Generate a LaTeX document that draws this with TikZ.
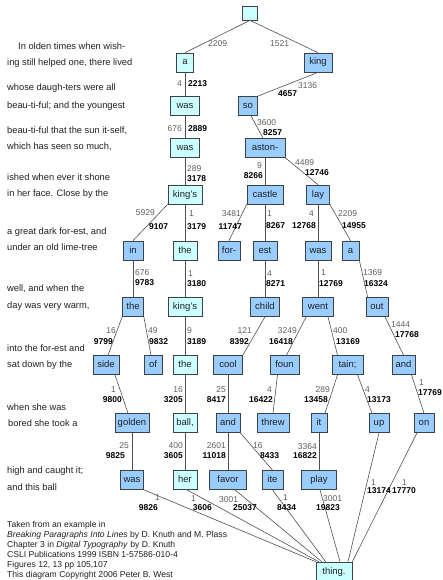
\documentclass[tikz,border=0pt]{standalone}
\usepackage{fontspec}
\setmainfont{Liberation Sans}
\definecolor{cyanfill}{HTML}{CCFFFF}
\definecolor{bluefill}{HTML}{99CCFF}
\definecolor{edgecol}{HTML}{505050}
\definecolor{numgray}{HTML}{606060}
\definecolor{txtcol}{HTML}{202020}
\begin{document}
\begin{tikzpicture}[x=1pt,y=-1pt,
  wbox/.style={draw=black!75, line width=0.7pt, minimum height=19pt, inner sep=0pt,
    text height=7pt, text depth=2pt, font=\fontsize{9.5}{10}\selectfont, text=txtcol},
  cy/.style={wbox, fill=cyanfill},
  bl/.style={wbox, fill=bluefill},
  edge/.style={draw=edgecol, line width=0.6pt},
  gn/.style={font=\fontsize{8.5}{9}\selectfont, text=numgray, inner sep=0pt, text height=6.2pt, text depth=0pt},
  bn/.style={font=\fontsize{8.5}{9}\selectfont\bfseries, text=black, inner sep=0pt, text height=6.2pt, text depth=0pt},
  txt/.style={font=\fontsize{9.3}{10}\selectfont, text=txtcol, inner sep=0pt, anchor=west, text height=7pt, text depth=2pt},
  foot/.style={font=\fontsize{8.6}{10}\selectfont, text=txtcol, inner sep=0pt, anchor=west, text height=6.5pt, text depth=2pt},
]
\useasboundingbox[fill=white] (0,0) rectangle (442,580);

% ---- left text ----
\node[txt] (t1) at (18,47) {In olden times when wish-};
\node[txt] (t2) at (7,63) {ing still helped one, there lived};
\node[txt] (t3) at (7,88) {whose daugh-ters were all};
\node[txt] (t4) at (7,106) {beau-ti-ful; and the youngest};
\node[txt] (t5) at (7,131) {beau-ti-ful that the sun it-self,};
\node[txt] (t6) at (7,147) {which has seen so much,};
\node[txt] (t7) at (7,178) {ished when ever it shone};
\node[txt] (t8) at (7,194) {in her face. Close by the};
\node[txt] (t9) at (7,232) {a great dark for-est, and};
\node[txt] (t10) at (7,248) {under an old lime-tree};
\node[txt] (t11) at (7,289) {well, and when the};
\node[txt] (t12) at (7,306) {day was very warm,};
\node[txt] (t13) at (7,349) {into the for-est and};
\node[txt] (t14) at (7,365) {sat down by the};
\node[txt] (t15) at (7,408) {when she was};
\node[txt] (t16) at (8,424) {bored she took a};
\node[txt] (t17) at (7,471) {high and caught it;};
\node[txt] (t18) at (7,488) {and this ball};

% ---- footer ----
\node[foot] (f1) at (7,525) {Taken from an example in};
\node[foot] (f2) at (7,535) {\textit{Breaking Paragraphs Into Lines} by D. Knuth and M. Plass};
\node[foot] (f3) at (7,545) {Chapter 3 in \textit{Digital Typography} by D. Knuth};
\node[foot] (f4) at (7,555) {CSLI Publications 1999 ISBN 1-57586-010-4};
\node[foot] (f5) at (7,565) {Figures 12, 13 pp 105,107};
\node[foot] (f6) at (7,575) {This diagram Copyright 2006 Peter B. West};

% ---- word nodes ----
\node[cy,minimum width=15pt,minimum height=14pt] (root) at (250,13) {};
\node[cy,minimum width=17pt] (a1) at (185,62.5) {a};
\node[bl,minimum width=28pt] (king) at (318,62.5) {king};
\node[cy,minimum width=29pt] (was2) at (185,106) {was};
\node[bl,minimum width=19pt] (so) at (248,106) {so};
\node[cy,minimum width=29pt] (was3) at (185,148) {was};
\node[bl,minimum width=40pt] (aston) at (265,148) {aston-};
\node[cy,minimum width=34pt] (kings4) at (185,194.5) {king's};
\node[bl,minimum width=36pt] (castle) at (265,194.5) {castle};
\node[bl,minimum width=23pt] (lay) at (318,194.5) {lay};
\node[bl,minimum width=20pt] (in) at (133,250.5) {in};
\node[cy,minimum width=24pt] (the5) at (185,250.5) {the};
\node[bl,minimum width=22pt] (for) at (229,250.5) {for-};
\node[bl,minimum width=24pt] (est) at (265,250.5) {est};
\node[bl,minimum width=26pt] (was5) at (318,250.5) {was};
\node[bl,minimum width=17pt] (a5) at (350.5,250.5) {a};
\node[bl,minimum width=21pt] (the6) at (133,307) {the};
\node[cy,minimum width=34pt] (kings6) at (185,307) {king's};
\node[bl,minimum width=29pt] (child) at (265,307) {child};
\node[bl,minimum width=31pt] (went) at (318,307) {went};
\node[bl,minimum width=22pt] (out) at (377,307) {out};
\node[bl,minimum width=26pt] (side) at (106,365) {side};
\node[bl,minimum width=18pt] (of) at (153,365) {of};
\node[cy,minimum width=24pt] (the7) at (185,365) {the};
\node[bl,minimum width=29pt] (cool) at (228,365) {cool};
\node[bl,minimum width=29pt] (foun) at (284.5,365) {foun};
\node[bl,minimum width=31pt] (tain) at (347.5,365) {tain;};
\node[bl,minimum width=23pt] (and7) at (403.5,365) {and};
\node[bl,minimum width=34pt] (golden) at (132,423) {golden};
\node[cy,minimum width=24pt] (ball) at (185,423) {ball,};
\node[bl,minimum width=24pt] (and8) at (228,423) {and};
\node[bl,minimum width=32pt] (threw) at (273,423) {threw};
\node[bl,minimum width=16pt] (it) at (319,423) {it};
\node[bl,minimum width=20pt] (up) at (379,423) {up};
\node[bl,minimum width=20pt] (on) at (424,423) {on};
\node[bl,minimum width=23pt] (was9) at (132,480) {was};
\node[cy,minimum width=24pt] (her) at (185,480) {her};
\node[bl,minimum width=37pt] (favor) at (228,480) {favor};
\node[bl,minimum width=21pt] (ite) at (272.5,480) {ite};
\node[bl,minimum width=35pt] (play) at (319,480) {play};
\node[cy,minimum width=36pt] (thing) at (334,571.5) {thing.};

% ---- connectors ----
\draw[edge] (root.south) -- (a1.north);
\draw[edge] (root.south) -- (king.north);
\draw[edge] (a1.south) -- (was2.north);
\draw[edge] (king.south) -- (so.north east);
\draw[edge] (was2.south) -- (was3.north);
\draw[edge] ([xshift=3pt]so.south) -- ([xshift=-2pt]aston.north);
\draw[edge] (aston.south) -- (castle.north);
\draw[edge] (aston.south east) -- (lay.north);
\draw[edge] (was3.south) -- (kings4.north);
\draw[edge] (kings4.south west) -- (in.north);
\draw[edge] (kings4.south) -- (the5.north);
\draw[edge] (castle.south west) -- (for.north);
\draw[edge] (castle.south) -- (est.north);
\draw[edge] (lay.south) -- (was5.north);
\draw[edge] (lay.south east) -- (a5.north);
\draw[edge] (in.south) -- (the6.north);
\draw[edge] (the5.south) -- (kings6.north);
\draw[edge] (est.south) -- (child.north);
\draw[edge] (was5.south) -- (went.north);
\draw[edge] (a5.south east) -- ([xshift=2pt]out.north west);
\draw[edge] (the6.south west) -- ([xshift=2pt]side.north);
\draw[edge] (the6.south east) -- ([xshift=-2pt]of.north);
\draw[edge] (kings6.south) -- (the7.north);
\draw[edge] (child.south) -- (cool.north east);
\draw[edge] ([xshift=4pt]went.south west) -- ([xshift=2pt]foun.north);
\draw[edge] ([xshift=10pt]went.south) -- ([xshift=-10pt]tain.north);
\draw[edge] ([xshift=8pt]out.south) -- (and7.north);
\draw[edge] ([xshift=9pt]side.south) -- ([xshift=-4pt]golden.north);
\draw[edge] (the7.south) -- (ball.north);
\draw[edge] (cool.south) -- (and8.north);
\draw[edge] ([xshift=-7pt]foun.south) -- (threw.north);
\draw[edge] ([xshift=-10pt]tain.south) -- ([xshift=6pt]it.north);
\draw[edge] ([xshift=10pt]tain.south) -- ([xshift=-7pt]up.north);
\draw[edge] ([xshift=8pt]and7.south) -- (on.north);
\draw[edge] (golden.south) -- (was9.north);
\draw[edge] (ball.south) -- (her.north);
\draw[edge] (and8.south) -- (favor.north);
\draw[edge] (and8.south east) -- (ite.north);
\draw[edge] (it.south) -- (play.north);
\draw[edge] (was9.south east) -- (thing.north west);
\draw[edge] ([xshift=2pt]her.south) -- ([xshift=3pt]thing.north west);
\draw[edge] ([xshift=7pt]favor.south) -- ([xshift=6pt]thing.north west);
\draw[edge] (ite.south) -- ([xshift=10pt]thing.north west);
\draw[edge] ([xshift=1pt]play.south) -- ([xshift=6pt]thing.north);
\draw[edge] (up.south) -- ([xshift=14pt]thing.north);
\draw[edge] ([xshift=-7pt]on.south) -- (thing.north east);

% ---- numbers ----
\node[gn,anchor=west] (g01) at (208,43) {2209};
\node[gn,anchor=west] (g02) at (270,43) {1521};
\node[gn,anchor=east] (g03) at (182,83) {4};
\node[bn,anchor=west] (b03) at (188,83) {2213};
\node[gn,anchor=west] (g04) at (298,85) {3136};
\node[bn,anchor=west] (b04) at (278,93) {4657};
\node[gn,anchor=east] (g05) at (182,128) {676};
\node[bn,anchor=west] (b05) at (188,128) {2889};
\node[gn,anchor=west] (g06) at (257,122) {3600};
\node[bn,anchor=west] (b06) at (263,132) {8257};
\node[gn,anchor=west] (g07) at (295,162) {4489};
\node[bn,anchor=west] (b07) at (305,172) {12746};
\node[gn,anchor=east] (g08) at (262,165) {9};
\node[bn,anchor=east] (b08) at (263,175) {8266};
\node[gn,anchor=west] (g09) at (187,168) {289};
\node[bn,anchor=west] (b09) at (187,178) {3178};
\node[gn,anchor=east] (g10) at (155,212) {5929};
\node[bn,anchor=west] (b10) at (149,226) {9107};
\node[gn,anchor=west] (g11) at (189,213) {1};
\node[bn,anchor=west] (b11) at (187,226) {3179};
\node[gn,anchor=east] (g12) at (241,213) {3481};
\node[bn,anchor=east] (b12) at (242,226) {11747};
\node[gn,anchor=west] (g13) at (267,213) {1};
\node[bn,anchor=west] (b13) at (266,225) {8267};
\node[gn,anchor=east] (g14) at (314,213) {4};
\node[bn,anchor=east] (b14) at (316,225) {12768};
\node[gn,anchor=west] (g15) at (338,213) {2209};
\node[bn,anchor=west] (b15) at (342,225) {14955};
\node[gn,anchor=west] (g16) at (135,272) {676};
\node[bn,anchor=west] (b16) at (135,282) {9783};
\node[gn,anchor=west] (g17) at (188,273) {1};
\node[bn,anchor=west] (b17) at (187,283) {3180};
\node[gn,anchor=west] (g18) at (267,273) {4};
\node[bn,anchor=west] (b18) at (266,283) {8271};
\node[gn,anchor=west] (g19) at (321,272) {1};
\node[bn,anchor=west] (b19) at (319,283) {12769};
\node[gn,anchor=west] (g20) at (363,272) {1369};
\node[bn,anchor=west] (b20) at (364,283) {16324};
\node[gn,anchor=east] (g21) at (116,330) {16};
\node[bn,anchor=east] (b21) at (113,341) {9799};
\node[gn,anchor=west] (g22) at (148,330) {49};
\node[bn,anchor=west] (b22) at (149,341) {9832};
\node[gn,anchor=west] (g23) at (187,330) {9};
\node[bn,anchor=west] (b23) at (187,341) {3189};
\node[gn,anchor=east] (g24) at (252,330) {121};
\node[bn,anchor=east] (b24) at (249,341) {8392};
\node[gn,anchor=east] (g25) at (297,330) {3249};
\node[bn,anchor=east] (b25) at (293,341) {16418};
\node[gn,anchor=west] (g26) at (333,330) {400};
\node[bn,anchor=west] (b26) at (336,341) {13169};
\node[gn,anchor=west] (g27) at (391,324) {1444};
\node[bn,anchor=west] (b27) at (395,334) {17768};
\node[gn,anchor=east] (g28) at (116,389) {1};
\node[bn,anchor=east] (b28) at (122,399) {9800};
\node[gn,anchor=east] (g29) at (183,389) {16};
\node[bn,anchor=east] (b29) at (183,399) {3205};
\node[gn,anchor=east] (g30) at (226,389) {25};
\node[bn,anchor=east] (b30) at (226,399) {8417};
\node[gn,anchor=east] (g31) at (272,389) {4};
\node[bn,anchor=east] (b31) at (273,399) {16422};
\node[gn,anchor=east] (g32) at (330,389) {289};
\node[bn,anchor=east] (b32) at (328,399) {13458};
\node[gn,anchor=west] (g33) at (365,389) {4};
\node[bn,anchor=west] (b33) at (367,399) {13173};
\node[gn,anchor=west] (g34) at (419,382) {1};
\node[bn,anchor=west] (b34) at (418,392) {17769};
\node[gn,anchor=east] (g35) at (129,445) {25};
\node[bn,anchor=east] (b35) at (125,455) {9825};
\node[gn,anchor=east] (g36) at (183,445) {400};
\node[bn,anchor=east] (b36) at (183,455) {3605};
\node[gn,anchor=east] (g37) at (226,445) {2601};
\node[bn,anchor=east] (b37) at (226,455) {11018};
\node[gn,anchor=west] (g38) at (253,445) {16};
\node[bn,anchor=west] (b38) at (260,455) {8433};
\node[gn,anchor=east] (g39) at (317,446) {3364};
\node[bn,anchor=east] (b39) at (317,455) {16822};
\node[gn,anchor=east] (g40) at (160,497) {1};
\node[bn,anchor=east] (b40) at (158,507) {9826};
\node[gn,anchor=east] (g41) at (196,498) {1};
\node[bn,anchor=east] (b41) at (212,507) {3606};
\node[gn,anchor=west] (g42) at (219,499) {3001};
\node[bn,anchor=west] (b42) at (233,507) {25037};
\node[gn,anchor=west] (g43) at (283,497) {1};
\node[bn,anchor=west] (b43) at (277,507) {8434};
\node[gn,anchor=west] (g44) at (323,498) {3001};
\node[bn,anchor=west] (b44) at (316,507) {19823};
\node[gn,anchor=west] (g45) at (371,482) {1};
\node[bn,anchor=west] (b45) at (367,490) {13174};
\node[gn,anchor=west] (g46) at (402,482) {1};
\node[bn,anchor=west] (b46) at (392,490) {17770};
\end{tikzpicture}
\end{document}
